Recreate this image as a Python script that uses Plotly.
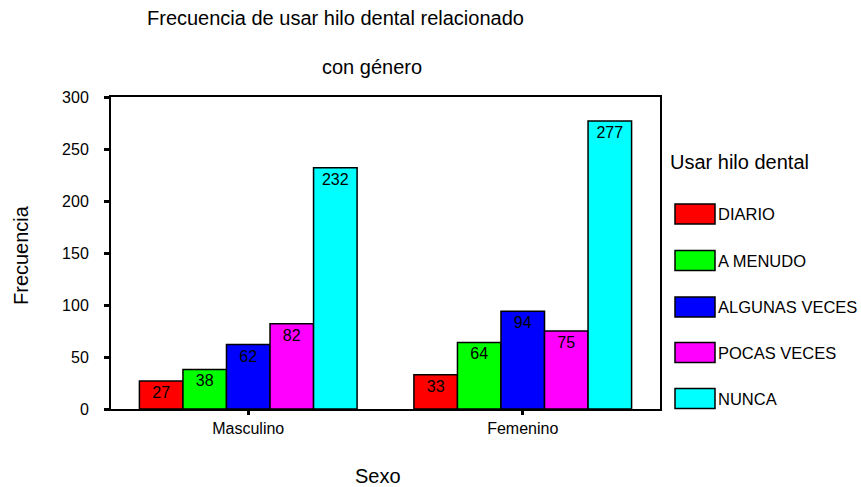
import plotly.graph_objects as go

# Frequency of flossing by sex
sexo = ["Masculino", "Femenino"]
categorias = ["DIARIO", "A MENUDO", "ALGUNAS VECES", "POCAS VECES", "NUNCA"]
valores = {
    "DIARIO": [27, 33],
    "A MENUDO": [38, 64],
    "ALGUNAS VECES": [62, 94],
    "POCAS VECES": [82, 75],
    "NUNCA": [232, 277],
}
colores = ["#FF0000", "#00FF00", "#0000FF", "#FF00FF", "#00FFFF"]
y_ticks = [0, 50, 100, 150, 200, 250, 300]

FONT = "Liberation Sans, Arial, sans-serif"

fig = go.Figure()
for cat, col in zip(categorias, colores):
    vals = valores[cat]
    fig.add_trace(go.Bar(
        name=cat, x=sexo, y=vals,
        marker=dict(color=col, line=dict(color="black", width=1.5)),
        text=[str(v) for v in vals],
        textposition="inside", insidetextanchor="end", textangle=0,
        constraintext="none",
        textfont=dict(family=FONT, size=16, color="black"),
        showlegend=False,
    ))

# Plot area spans px 111..660 horizontally and 97..409 vertically
L, R, T, B = 111, 660, 97, 409
W, H = R - L, B - T


def px(x):
    return (x - L) / W


def py(y):
    return (B - y) / H


shapes = []
annotations = []

# Custom legend with wide swatches
annotations.append(dict(text="Usar hilo dental", x=px(668), y=py(162), xref="paper", yref="paper",
                        xanchor="left", yanchor="middle", showarrow=False,
                        font=dict(family=FONT, size=20, color="black")))
legend_y = [214, 260.5, 307, 352.5, 398.5]
for cat, col, yc in zip(categorias, colores, legend_y):
    shapes.append(dict(type="rect", xref="paper", yref="paper",
                       x0=px(675), x1=px(715), y0=py(yc + 10), y1=py(yc - 10),
                       fillcolor=col, line=dict(color="black", width=1.5)))
    annotations.append(dict(text=cat, x=px(716), y=py(yc), xref="paper", yref="paper",
                            xanchor="left", yanchor="middle", showarrow=False,
                            font=dict(family=FONT, size=16.5, color="black")))

# Two-line title
annotations.append(dict(text="Frecuencia de usar hilo dental relacionado", x=px(335), y=py(18),
                        xref="paper", yref="paper", xanchor="center", yanchor="middle",
                        showarrow=False, font=dict(family=FONT, size=20, color="black")))
annotations.append(dict(text="con género", x=px(372), y=py(67),
                        xref="paper", yref="paper", xanchor="center", yanchor="middle",
                        showarrow=False, font=dict(family=FONT, size=20, color="black")))

# Axis titles
annotations.append(dict(text="Frecuencia", x=px(21), y=py(255), xref="paper", yref="paper",
                        xanchor="center", yanchor="middle", textangle=-90, showarrow=False,
                        font=dict(family=FONT, size=20, color="black")))
annotations.append(dict(text="Sexo", x=px(378), y=py(476), xref="paper", yref="paper",
                        xanchor="center", yanchor="middle", showarrow=False,
                        font=dict(family=FONT, size=20, color="black")))

fig.update_layout(
    width=861, height=487,
    margin=dict(l=L, r=861 - R, t=T, b=487 - B),
    paper_bgcolor="white", plot_bgcolor="white",
    barmode="group", bargap=0.207, bargroupgap=0,
    font=dict(family=FONT, size=16, color="black"),
    shapes=shapes, annotations=annotations,
    xaxis=dict(range=[-0.5, 1.5], showline=True, mirror=True, linecolor="black", linewidth=2,
               ticks="outside", ticklen=4, tickwidth=3, tickcolor="black",
               showgrid=False, tickfont=dict(family=FONT, size=16, color="black")),
    yaxis=dict(range=[0, 300], tickvals=y_ticks, showline=True, mirror=True, linecolor="black",
               linewidth=2, ticks="outside", ticklen=5, tickwidth=3, tickcolor="black",
               showgrid=False, zeroline=False, ticklabelstandoff=12,
               tickfont=dict(family=FONT, size=16, color="black")),
)

fig.write_html("out.html")
